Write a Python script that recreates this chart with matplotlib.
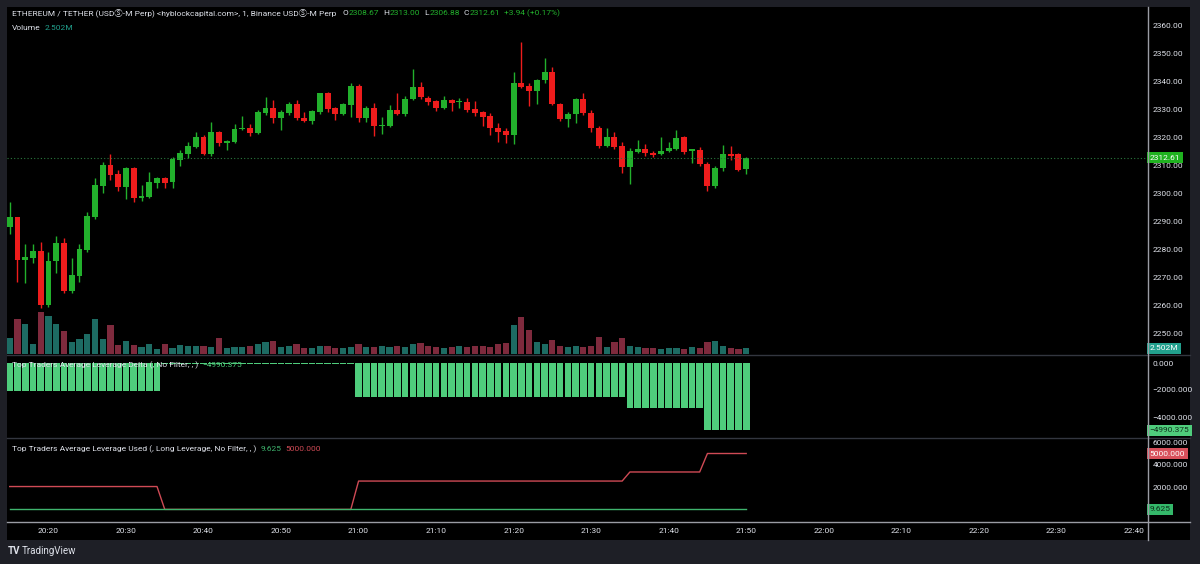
import matplotlib
matplotlib.use("Agg")
import matplotlib.pyplot as plt
from matplotlib.lines import Line2D
import matplotlib.transforms as mtransforms

# ---------------- data ----------------
start_minute = 15  # 20:15
opens = [2288.0, 2291.3, 2276.2, 2276.9, 2279.4, 2260.0, 2275.7, 2282.3, 2265.1, 2270.5,
         2279.6, 2291.5, 2302.5, 2310.1, 2306.7, 2302.0, 2308.8, 2298.3, 2298.7, 2303.7,
         2305.5, 2303.8, 2311.8, 2313.9, 2316.5, 2320.1, 2313.9, 2321.9, 2317.8, 2318.3,
         2322.9, 2323.2, 2321.5, 2328.5, 2330.2, 2326.9, 2328.5, 2331.8, 2326.9, 2325.8,
         2329.0, 2335.6, 2330.2, 2328.2, 2331.4, 2338.3, 2326.7, 2330.2, 2324.0, 2323.9,
         2329.6, 2328.2, 2333.5, 2337.7, 2334.0, 2333.0, 2330.2, 2333.1, 2332.4, 2332.6,
         2329.9, 2329.0, 2327.5, 2323.3, 2322.3, 2320.7, 2339.2, 2338.2, 2336.5, 2340.4,
         2343.2, 2331.8, 2326.3, 2328.2, 2333.5, 2328.7, 2323.1, 2316.8, 2320.1, 2316.8,
         2309.4, 2314.6, 2315.6, 2314.4, 2313.8, 2315.0, 2315.6, 2319.9, 2315.0, 2315.4,
         2310.4, 2302.5, 2309.0, 2313.8, 2313.8, 2308.67]
highs = [2296.9, 2291.6, 2281.8, 2281.8, 2282.5, 2279.0, 2284.6, 2283.8, 2276.7, 2281.8,
         2293.3, 2305.2, 2311.2, 2313.9, 2308.2, 2309.4, 2309.4, 2302.9, 2307.6, 2305.8,
         2305.8, 2313.0, 2315.4, 2318.3, 2321.9, 2320.8, 2325.5, 2322.2, 2318.9, 2324.6,
         2327.5, 2324.6, 2329.6, 2334.2, 2333.2, 2329.6, 2332.6, 2333.2, 2329.0, 2329.6,
         2335.8, 2336.2, 2330.8, 2332.3, 2339.2, 2338.9, 2331.0, 2332.0, 2327.0, 2331.4,
         2335.8, 2334.5, 2344.2, 2339.8, 2334.6, 2333.2, 2334.6, 2333.4, 2334.0, 2334.0,
         2333.0, 2329.4, 2328.7, 2324.9, 2323.1, 2343.1, 2354.0, 2339.4, 2340.6, 2348.1,
         2344.9, 2332.2, 2329.0, 2333.9, 2335.6, 2329.5, 2323.8, 2323.1, 2321.7, 2318.3,
         2316.0, 2318.9, 2317.5, 2315.1, 2320.1, 2318.3, 2322.5, 2320.5, 2315.7, 2316.3,
         2311.2, 2309.5, 2317.1, 2316.8, 2314.2, 2313.00]
lows = [2285.2, 2268.3, 2267.7, 2274.9, 2259.0, 2259.4, 2271.3, 2264.2, 2264.2, 2268.3,
        2279.0, 2290.6, 2299.9, 2304.6, 2300.8, 2297.8, 2296.9, 2297.1, 2298.1, 2301.7,
        2301.7, 2301.7, 2309.6, 2312.4, 2316.0, 2313.5, 2313.2, 2316.8, 2315.4, 2318.0,
        2322.5, 2320.4, 2321.1, 2327.9, 2324.9, 2322.5, 2327.9, 2326.1, 2325.4, 2324.6,
        2328.2, 2329.0, 2326.1, 2327.7, 2327.0, 2325.5, 2325.5, 2320.4, 2321.1, 2323.5,
        2327.9, 2327.5, 2333.2, 2333.5, 2331.6, 2329.4, 2329.9, 2329.4, 2330.2, 2329.0,
        2327.5, 2323.9, 2320.7, 2318.3, 2318.0, 2317.5, 2337.5, 2331.1, 2331.8, 2339.2,
        2331.5, 2325.8, 2323.5, 2325.0, 2328.0, 2321.8, 2316.0, 2316.3, 2315.8, 2307.0,
        2303.2, 2314.2, 2313.2, 2312.9, 2313.4, 2314.6, 2315.2, 2314.0, 2310.8, 2309.7,
        2300.8, 2301.8, 2308.0, 2311.8, 2307.9, 2306.88]
closes = [2291.3, 2276.1, 2277.1, 2279.4, 2260.0, 2275.7, 2282.3, 2265.1, 2270.7, 2279.9,
          2291.8, 2302.9, 2310.0, 2306.4, 2302.0, 2308.8, 2298.3, 2298.9, 2303.8, 2305.5,
          2303.7, 2312.0, 2314.4, 2316.8, 2320.1, 2313.9, 2321.9, 2317.8, 2318.7, 2322.9,
          2323.2, 2321.3, 2328.8, 2330.2, 2326.9, 2328.8, 2331.8, 2326.7, 2325.8, 2329.3,
          2335.6, 2329.9, 2328.2, 2331.8, 2338.3, 2326.7, 2330.2, 2324.0, 2324.4, 2329.6,
          2328.2, 2333.7, 2337.7, 2334.2, 2332.6, 2330.2, 2333.2, 2332.0, 2332.6, 2329.6,
          2328.5, 2327.3, 2323.1, 2321.9, 2320.7, 2339.2, 2337.8, 2336.5, 2340.4, 2343.1,
          2331.7, 2326.3, 2328.2, 2333.5, 2328.5, 2323.1, 2316.8, 2320.1, 2316.5, 2309.4,
          2315.1, 2315.6, 2314.4, 2313.6, 2315.1, 2316.0, 2319.8, 2314.8, 2315.6, 2310.4,
          2302.5, 2309.0, 2313.8, 2313.2, 2308.2, 2312.61]
volumes_m = [6.5, 14.6, 12.5, 4.2, 17.5, 15.8, 12.5, 9.7, 4.9, 6.1,
             8.2, 14.5, 6.1, 12.1, 3.8, 5.4, 3.8, 3.0, 4.0, 2.1,
             4.0, 2.6, 3.8, 3.5, 3.5,
             3.3, 3.0, 6.5, 2.5, 3.0, 2.8, 3.5, 4.0, 5.0, 5.5, 3.0, 3.5, 4.0, 2.5, 2.5,
             3.5, 3.5, 2.5, 2.5, 3.0, 4.0, 3.0, 3.0, 3.5, 3.0, 3.5, 3.0, 4.0, 4.5, 3.5,
             3.0, 2.5, 3.0, 3.5, 3.0, 3.5, 3.5, 3.0, 4.0, 4.5, 12.0, 15.5, 10.0, 5.0, 4.0,
             6.0, 3.5, 3.0, 3.5, 3.0, 3.5, 7.0, 3.0, 5.0, 6.5, 3.5, 3.0, 2.5, 2.5, 2.0,
             2.5, 2.5, 2.0, 3.0, 2.5, 5.0, 5.5, 3.5, 2.5, 2.0, 2.502]
leverage_delta = [-2050.0] * 20 + [-40.0] * 25 + [-2530.0] * 35 + [-3330.0] * 10 + [-4990.375] * 6
long_leverage = [2050.0] * 20 + [9.625] * 25 + [2540.0] * 35 + [3350.0] * 10 + [5000.0] * 6
short_leverage = [9.625] * 96

time_ticks = list(range(20, 161, 10))
time_labels = ["20:20", "20:30", "20:40", "20:50", "21:00", "21:10", "21:20", "21:30",
               "21:40", "21:50", "22:00", "22:10", "22:20", "22:30", "22:40"]
price_ticks = [2250, 2260, 2270, 2280, 2290, 2300, 2310, 2320, 2330, 2340, 2350, 2360]
delta_ticks = [0, -2000, -4000]
lev_ticks = [2000, 4000, 6000]

last_close = 2312.61
last_volume_m = 2.502
last_delta = -4990.375
last_short = 9.625
last_long = 5000.0

# ---------------- style ----------------
UP = "#22b02c"
DOWN = "#ee1c1c"
VOL_UP = "#1d6b63"
VOL_DOWN = "#7e2a3d"
DELTA_C = "#4fcd7c"
LONG_C = "#cf4a55"
SHORT_C = "#3fb46e"
TXT = "#dfe2ea"
FRAME = "#1e1f26"
SEP = "#33363f"
AXL = "#9a9ca4"
FONT = ["Roboto", "DejaVu Sans", "Noto Sans CJK SC"]
FS = 6.0

W, H = 1200, 564
fig = plt.figure(figsize=(12, 5.64), dpi=100)
fig.patch.set_facecolor(FRAME)


def add_ax(x0, y0, x1, y1, **kw):
    return fig.add_axes([x0 / W, 1 - y1 / H, (x1 - x0) / W, (y1 - y0) / H], **kw)


bg = add_ax(7, 7, 1190, 540)
bg.set_facecolor("black")
bg.set_xticks([])
bg.set_yticks([])
for s in bg.spines.values():
    s.set_visible(False)

n = len(closes)
t = [start_minute + i for i in range(n)]
XMIN, XMAX = 14.65, 161.7

# volume axis (behind the candles)
vax = add_ax(7, 7, 1147, 354)
vax.patch.set_visible(False)
vcols = [VOL_UP if c >= o else VOL_DOWN for o, c in zip(opens, closes)]
vax.bar(t, volumes_m, width=0.8, color=vcols, linewidth=0)
vax.set_xlim(XMIN, XMAX)
vax.set_ylim(0, 145)
vax.axis("off")

ax = add_ax(7, 7, 1147, 354)
ax.patch.set_visible(False)
cols = [UP if c >= o else DOWN for o, c in zip(opens, closes)]
ax.vlines(t, lows, highs, colors=cols, linewidth=1.0)
bodies = [max(abs(c - o), 0.35) for o, c in zip(opens, closes)]
bottoms = [min(o, c) for o, c in zip(opens, closes)]
ax.bar(t, bodies, bottom=bottoms, width=0.76, color=cols, linewidth=0)
ax.axhline(last_close, color="#2a7a3e", linestyle=(0, (1, 2)), linewidth=0.8)
ax.set_xlim(XMIN, XMAX)
ax.set_ylim(2360 - (354 - 25) / 2.8, 2360 + (25 - 7) / 2.8)
ax.set_yticks(price_ticks)
ax.set_yticklabels([f"{p:.2f}" for p in price_ticks])
ax.yaxis.tick_right()
ax.set_xticks([])

dax = add_ax(7, 355, 1147, 437)
dax.patch.set_visible(False)
dax.bar(t, leverage_delta, width=0.86, color=DELTA_C, linewidth=0)
dax.set_xlim(XMIN, XMAX)
dax.set_ylim(-(437 - 363) / 13.5 * 1000, (363 - 355) / 13.5 * 1000)
dax.set_yticks(delta_ticks)
dax.set_yticklabels([f"{v:.3f}".replace("-", "\u2212") for v in delta_ticks])
dax.yaxis.tick_right()
dax.set_xticks([])

lax = add_ax(7, 439, 1147, 521)
lax.patch.set_visible(False)
lax.plot(t, long_leverage, color=LONG_C, linewidth=1.0)
lax.plot(t, short_leverage, color=SHORT_C, linewidth=1.0)
lax.set_xlim(XMIN, XMAX)
lax.set_ylim(-(521 - 509.5) / 11.2 * 1000, (509.5 - 439) / 11.2 * 1000)
lax.set_yticks(lev_ticks)
lax.set_yticklabels([f"{v:.3f}" for v in lev_ticks])
lax.yaxis.tick_right()
lax.set_xticks(time_ticks)
lax.set_xticklabels(time_labels)

for a in (ax, dax, lax):
    for s in a.spines.values():
        s.set_visible(False)
    a.tick_params(axis="y", length=0, pad=4, labelsize=FS, labelcolor=TXT)
    a.tick_params(axis="x", length=0, pad=5, labelsize=FS, labelcolor=TXT)
    for lbl in a.get_yticklabels() + a.get_xticklabels():
        lbl.set_family(FONT)

# separators and axis lines
for yy in (354.5, 438.0):
    fig.add_artist(Line2D([7 / W, 1190 / W], [1 - yy / H] * 2, color=SEP, linewidth=1))
fig.add_artist(Line2D([7 / W, 1190 / W], [1 - 521.5 / H] * 2, color=AXL, linewidth=1))
fig.add_artist(Line2D([1147.5 / W] * 2, [1 - 7 / H, 1 - 540 / H], color=AXL, linewidth=1))


def tag(a, y, text, fc, tc="white"):
    tr = mtransforms.blended_transform_factory(a.transAxes, a.transData)
    a.text(1.0 + 2.5 / 1140, y, text, transform=tr, ha="left", va="center", fontsize=FS,
           color=tc, family=FONT, clip_on=False,
           bbox=dict(boxstyle="square,pad=0.3", facecolor=fc, edgecolor="none"))


tag(ax, last_close, f"{last_close:.2f}", "#1fb21f")
tag(vax, last_volume_m, f"{last_volume_m:.3f}M", "#22a08d")
tag(dax, last_delta, f"{last_delta:.3f}".replace("-", "\u2212"), DELTA_C, "#10301c")
tag(lax, last_long, f"{last_long:.3f}", "#d8505b")
tag(lax, last_short, f"{last_short:.3f}", "#34b86a", "#0f2d1b")

renderer = fig.canvas.get_renderer()


def seq_text(x, y, pieces, size=FS, gaps=None):
    for k, (s, c) in enumerate(pieces):
        tx = fig.text(x / W, 1 - y / H, s, color=c, fontsize=size, ha="left", va="center",
                      family=FONT)
        bb = tx.get_window_extent(renderer)
        g = 4.0 if gaps is None else gaps[k]
        x += bb.width + g


hdr = "ETHEREUM / TETHER (USD\u24c8-M Perp) <hyblockcapital.com>, 1, Binance USD\u24c8-M Perp"
chg = closes[-1] - opens[-1]
seq_text(12, 13, [
    (hdr, TXT),
    ("O", TXT), (f"{opens[-1]:.2f}", UP),
    ("H", TXT), (f"{highs[-1]:.2f}", UP),
    ("L", TXT), (f"{lows[-1]:.2f}", UP),
    ("C", TXT), (f"{closes[-1]:.2f}", UP),
    (f"+{chg:.2f} (+{chg / opens[-1] * 100:.2f}%)", UP),
], gaps=[6, 0.5, 4, 0.5, 4, 0.5, 4, 0.5, 4, 0])

seq_text(12, 28, [("Volume", TXT), (f"{last_volume_m:.3f}M", "#22a08d")])
seq_text(12, 365, [("Top Traders Average Leverage Delta (, No Filter, , )", TXT),
                   (f"{last_delta:.3f}".replace("-", "\u2212"), DELTA_C)])
seq_text(12, 449, [("Top Traders Average Leverage Used (, Long Leverage, No Filter, , )", TXT),
                   (f"{last_short:.3f}", SHORT_C), (f"{last_long:.3f}", LONG_C)])

fig.text(8 / W, 1 - 551 / H, "TV", color=TXT, fontsize=7, fontweight="bold", ha="left",
         va="center", family=FONT)
fig.text(22 / W, 1 - 551 / H, "TradingView", color=TXT, fontsize=7.0, ha="left",
         va="center", family=FONT)

fig.savefig("out.png", dpi=100, facecolor=FRAME)
